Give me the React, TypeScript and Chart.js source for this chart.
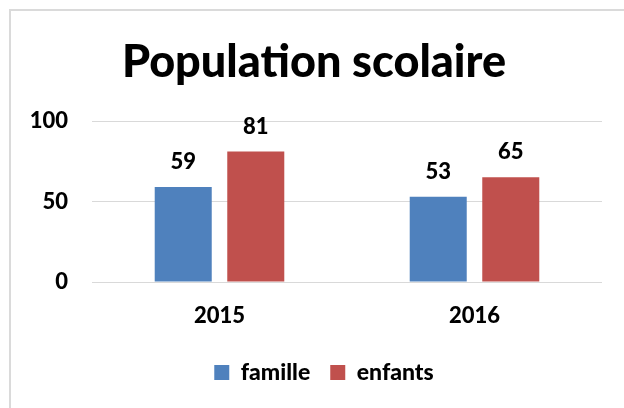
import React, { useEffect, useRef } from "react";
import { Chart, registerables } from "chart.js";

Chart.register(...registerables);

const categories = ["2015", "2016"];
const familleValues = [59, 53];
const enfantsValues = [81, 65];
const seriesNames = ["famille", "enfants"];
const yTicks = [0, 50, 100];

const FONT = "Lato, 'Liberation Sans', sans-serif";
const W = 900;

const dataLabelPlugin = {
  id: "dataLabels",
  afterDatasetsDraw(chart: any) {
    const { ctx } = chart;
    ctx.save();
    ctx.font = `${W} 22px ${FONT}`;
    ctx.fillStyle = "#000";
    ctx.textAlign = "center";
    ctx.textBaseline = "middle";
    chart.data.datasets.forEach((ds: any, i: number) => {
      const meta = chart.getDatasetMeta(i);
      meta.data.forEach((el: any, j: number) => {
        ctx.fillText(String(ds.data[j]), el.x, el.y - 25);
      });
    });
    ctx.restore();
  },
};

const legendShiftPlugin = {
  id: "legendShift",
  afterLayout(chart: any) {
    if (chart.legend) {
      chart.legend.left += 10;
      chart.legend.right += 10;
    }
  },
};

export default function App() {
  const ref = useRef<HTMLCanvasElement | null>(null);
  useEffect(() => {
    let chart: Chart | null = null;
    let cancelled = false;
    const make = () => {
      if (cancelled || !ref.current) return;
      chart = new Chart(ref.current, {
        type: "bar",
        data: {
          labels: categories,
          datasets: [
            {
              label: seriesNames[0],
              data: familleValues,
              backgroundColor: "#4F81BD",
              categoryPercentage: 0.569,
              barPercentage: 0.786,
            },
            {
              label: seriesNames[1],
              data: enfantsValues,
              backgroundColor: "#C0504D",
              categoryPercentage: 0.569,
              barPercentage: 0.786,
            },
          ],
        },
        options: {
          animation: false,
          responsive: false,
          maintainAspectRatio: false,
          layout: { padding: { left: 26, right: 22, top: 0, bottom: 14 } },
          plugins: {
            title: {
              display: true,
              text: "Population scolaire",
              color: "#000",
              font: { family: FONT, size: 45, weight: W, lineHeight: 1.2 },
              padding: { top: 35, bottom: 32 },
            },
            legend: {
              position: "bottom",
              labels: {
                boxWidth: 15,
                boxHeight: 15,
                padding: 20,
                color: "#000",
                font: { family: FONT, size: 23, weight: W },
              },
            },
            tooltip: { enabled: false },
          },
          scales: {
            x: {
              grid: { display: false, drawTicks: false },
              border: { display: false },
              ticks: {
                color: "#000",
                padding: 21,
                font: { family: FONT, size: 22, weight: W },
              },
              afterFit(scale: any) {
                scale.height = 59;
              },
            },
            y: {
              min: 0,
              max: 100,
              afterBuildTicks(scale: any) {
                scale.ticks = yTicks.map((v) => ({ value: v }));
              },
              grid: { color: "#D9D9D9", drawTicks: false, lineWidth: 1 },
              border: { display: false },
              ticks: {
                color: "#000",
                padding: 24,
                font: { family: FONT, size: 22, weight: W },
              },
              afterFit(scale: any) {
                scale.width = 66;
              },
            },
          },
        },
        plugins: [dataLabelPlugin, legendShiftPlugin],
      } as any);
    };
    const fontsApi = (document as any).fonts;
    if (fontsApi && fontsApi.load) {
      Promise.all([
        fontsApi.load(`${W} 22px Lato`),
        fontsApi.load(`${W} 45px Lato`),
      ])
        .catch(() => {})
        .then(make);
    } else {
      make();
    }
    return () => {
      cancelled = true;
      if (chart) chart.destroy();
    };
  }, []);

  return (
    <div
      style={{
        position: "fixed",
        left: 0,
        top: 0,
        width: 624,
        height: 408,
        background: "#fff",
        overflow: "hidden",
      }}
    >
      <div
        style={{
          position: "absolute",
          left: 9,
          top: 9,
          width: 700,
          height: 500,
          border: "2px solid #DADADA",
          boxSizing: "border-box",
        }}
      />
      <canvas
        ref={ref}
        width={624}
        height={408}
        style={{ position: "absolute", left: 0, top: 0, width: 624, height: 408 }}
      />
    </div>
  );
}
